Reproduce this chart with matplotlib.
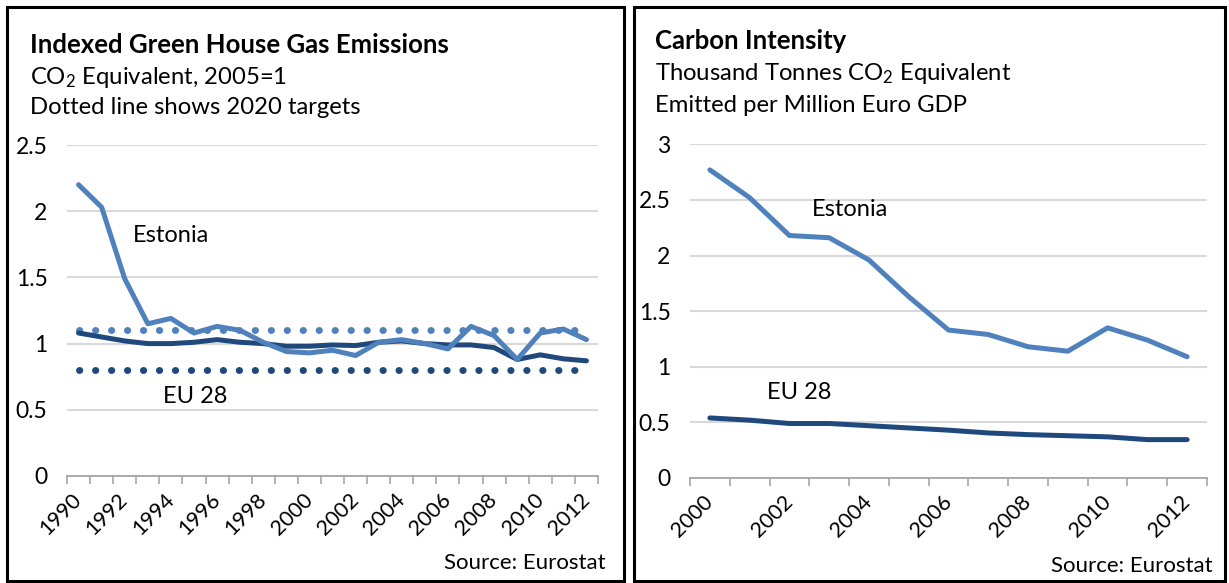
import matplotlib
matplotlib.use("Agg")
import matplotlib.pyplot as plt
from matplotlib.patches import Rectangle
import numpy as np

plt.rcParams['font.family'] = ['Lato', 'DejaVu Sans']
plt.rcParams['mathtext.fontset'] = 'custom'
plt.rcParams['mathtext.rm'] = 'Lato'
plt.rcParams['mathtext.it'] = 'Lato:italic'
plt.rcParams['mathtext.bf'] = 'Lato:bold'

# ---- Indexed greenhouse gas emissions (2005 = 1) ----
ghg_years = list(range(1990, 2013))
ghg_estonia = [2.20, 2.03, 1.49, 1.15, 1.19, 1.08, 1.13, 1.10, 1.01, 0.94, 0.93, 0.95,
               0.91, 1.01, 1.03, 1.00, 0.96, 1.13, 1.06, 0.88, 1.08, 1.11, 1.03]
ghg_eu28 = [1.08, 1.05, 1.02, 1.00, 1.00, 1.01, 1.03, 1.01, 1.00, 0.98, 0.98, 0.99,
            0.985, 1.01, 1.02, 1.00, 0.99, 0.99, 0.97, 0.88, 0.915, 0.885, 0.87]
target_estonia = 1.10
target_eu28 = 0.80

# ---- Carbon intensity (thousand tonnes CO2e per million euro GDP) ----
ci_years = list(range(2000, 2013))
ci_estonia = [2.77, 2.52, 2.18, 2.16, 1.96, 1.63, 1.33, 1.29, 1.18, 1.14, 1.35, 1.24, 1.09]
ci_eu28 = [0.54, 0.52, 0.49, 0.49, 0.47, 0.45, 0.43, 0.405, 0.39, 0.38, 0.37, 0.345, 0.345]

LIGHT = '#4F81BD'
DARK = '#1F497D'
GRID = '#D9D9D9'
AXIS = '#A6A6A6'

W, H = 1229, 583
fig = plt.figure(figsize=(W / 100, H / 100), dpi=100)


def fx(px):
    return px / W


def fy(py):
    return 1 - py / H


# panel frames
for x0, x1 in [(7, 624), (634, 1225)]:
    fig.patches.append(Rectangle((fx(x0), fy(581)), fx(x1 - x0), (581 - 7) / H,
                                 transform=fig.transFigure, fill=False,
                                 edgecolor='black', linewidth=2.2, zorder=0))


def style_axes(ax, years, ymax, ystep):
    n = len(years)
    ax.set_xlim(-0.5, n - 0.5)
    ax.set_ylim(0, ymax)
    ticks = np.arange(0, ymax + 1e-9, ystep)
    ax.set_yticks(ticks)
    ax.set_yticklabels([f"{v:g}" for v in ticks])
    ax.yaxis.grid(True, color=GRID, linewidth=1.5)
    ax.set_axisbelow(True)
    for s in ['top', 'right', 'left']:
        ax.spines[s].set_visible(False)
    ax.spines['bottom'].set_color(AXIS)
    ax.spines['bottom'].set_linewidth(1.3)
    ax.tick_params(axis='y', length=0, pad=14, labelsize=16.5)
    idx = list(range(0, n, 2))
    ax.set_xticks(idx)
    ax.set_xticklabels([str(years[i]) for i in idx], rotation=45,
                       ha='right', va='center', rotation_mode='anchor')
    ax.tick_params(axis='x', which='major', length=0, pad=15, labelsize=15.5)
    ax.set_xticks(np.arange(-0.5, n, 1.0), minor=True)
    ax.tick_params(axis='x', which='minor', length=6, color=AXIS, width=1.2)


def dotted_target(ax, x, value, color):
    ax.plot(x, [value] * len(x), color=color, lw=5,
            linestyle=(0, (0.05, 2.25)), dash_capstyle='round', zorder=2)


# ---- left panel ----
ax1 = fig.add_axes([fx(67), fy(476), fx(598 - 67), (476 - 145) / H])
style_axes(ax1, ghg_years, 2.5, 0.5)
x1 = np.arange(len(ghg_years))
dotted_target(ax1, x1, target_estonia, LIGHT)
dotted_target(ax1, x1, target_eu28, DARK)
ax1.plot(x1, ghg_eu28, color=DARK, lw=3.6, solid_capstyle='round',
         solid_joinstyle='round', zorder=3)
ax1.plot(x1, ghg_estonia, color=LIGHT, lw=3.6, solid_capstyle='round',
         solid_joinstyle='round', zorder=4)
ax1.text(2.36, 1.82, 'Estonia', fontsize=17, va='center', ha='left')
ax1.text(3.66, 0.60, 'EU 28', fontsize=17, va='center', ha='left')

fig.text(fx(30), fy(45), 'Indexed Green House Gas Emissions', fontsize=18.5,
         fontweight='bold', va='center', ha='left')
fig.text(fx(30), fy(77), r'CO$_2$ Equivalent, 2005=1', fontsize=17.2,
         va='center', ha='left')
fig.text(fx(30), fy(108), 'Dotted line shows 2020 targets', fontsize=17.2,
         va='center', ha='left')
fig.text(fx(606), fy(563), 'Source: Eurostat', fontsize=16, va='center', ha='right')

# ---- right panel ----
ax2 = fig.add_axes([fx(690), fy(478), fx(1207 - 690), (478 - 144.3) / H])
style_axes(ax2, ci_years, 3, 0.5)
x2 = np.arange(len(ci_years))
ax2.plot(x2, ci_eu28, color=DARK, lw=3.6, solid_capstyle='round',
         solid_joinstyle='round', zorder=3)
ax2.plot(x2, ci_estonia, color=LIGHT, lw=3.6, solid_capstyle='round',
         solid_joinstyle='round', zorder=4)
ax2.text(2.57, 2.41, 'Estonia', fontsize=17, va='center', ha='left')
ax2.text(1.43, 0.77, 'EU 28', fontsize=17, va='center', ha='left')

fig.text(fx(655), fy(41), 'Carbon Intensity', fontsize=18.5,
         fontweight='bold', va='center', ha='left')
fig.text(fx(655), fy(74), r'Thousand Tonnes CO$_2$ Equivalent', fontsize=17.2,
         va='center', ha='left')
fig.text(fx(655), fy(105), 'Emitted per Million Euro GDP', fontsize=17.2,
         va='center', ha='left')
fig.text(fx(1213), fy(566), 'Source: Eurostat', fontsize=16, va='center', ha='right')

fig.savefig('out.png', dpi=100, facecolor='white')
